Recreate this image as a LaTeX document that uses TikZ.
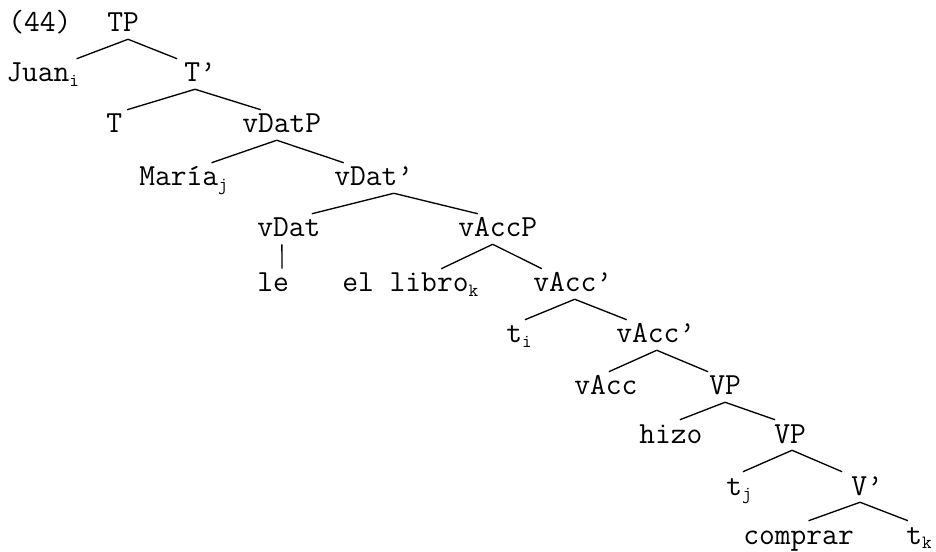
\documentclass[tikz,border=0pt]{standalone}
\usepackage{fontspec}
\usetikzlibrary{calc}

% small lowered index letters
\newcommand{\sbs}[1]{\raisebox{-3.5pt}{\fontsize{14}{14}\selectfont #1}}

\begin{document}
\begin{tikzpicture}[
  x=0.75pt, y=-0.75pt,
  lbl/.style={anchor=base west, inner sep=0pt, text height=17.25pt,
    text depth=5.25pt, font=\ttfamily\fontsize{23}{26}\selectfont},
  branch/.style={line width=1pt},
]
\useasboundingbox (0,0) rectangle (936,552);

% Example number and root
\node[lbl] (num) at (8,32) {(44)};
\node[lbl] (TP) at (107,32) {TP};

% Labels, row by row
\node[lbl] (Juan)  at (6,82)    {Juan\sbs{i}};
\node[lbl] (Tbar)  at (184,82)  {T’};
\node[lbl] (T)     at (106,133) {T};
\node[lbl] (vDatP) at (242,133) {vDatP};
\node[lbl] (Maria) at (139,186) {María\sbs{j}};
\node[lbl] (vDatbar) at (334,186) {vDat’};
\node[lbl] (vDat)  at (257,237) {vDat};
\node[lbl] (vAccP) at (458,237) {vAccP};
\node[lbl] (le)    at (257,292) {le};
\node[lbl] (libro) at (342,292) {el libro\sbs{k}};
\node[lbl] (vAccbarA) at (533,292) {vAcc’};
\node[lbl] (ti)    at (506,343) {t\sbs{i}};
\node[lbl] (vAccbarB) at (616,343) {vAcc’};
\node[lbl] (vAcc)  at (574,395) {vAcc};
\node[lbl] (VPa)   at (709,395) {VP};
\node[lbl] (hizo)  at (639,443) {hizo};
\node[lbl] (VPb)   at (774,443) {VP};
\node[lbl] (tj)    at (726,495) {t\sbs{j}};
\node[lbl] (Vbar)  at (851,495) {V’};
\node[lbl] (comprar) at (743,544) {comprar};
\node[lbl] (tk)    at (906,544) {t\sbs{k}};

% Branches
\draw[branch] ($(TP.south)+(5,0)$) -- ($(Juan.north)+(34,0)$);
\draw[branch] ($(TP.south)+(5,0)$) -- ($(Tbar.north)+(-23,0)$);

\draw[branch] ($(Tbar.south)+(-5,0)$) -- ($(T.north)+(13,0)$);
\draw[branch] ($(Tbar.south)+(-5,0)$) -- ($(vDatP.north)+(-21,0)$);

\draw[branch] ($(vDatP.south)+(-5,0)$) -- ($(Maria.north)+(28,0)$);
\draw[branch] ($(vDatP.south)+(-5,0)$) -- ($(vDatbar.north)+(-30,0)$);

\draw[branch] ($(vDatbar.south)+(20,0)$) -- ($(vDat.north)+(23,0)$);
\draw[branch] ($(vDatbar.south)+(20,0)$) -- ($(vAccP.north)+(-20,0)$);

\draw[branch] ($(vDat.south)+(-7,0)$) -- ($(le.north)+(9,0)$);

\draw[branch] ($(vAccP.south)+(-5,0)$) -- ($(libro.north)+(31,0)$);
\draw[branch] ($(vAccP.south)+(-5,0)$) -- ($(vAccbarA.north)+(-31,0)$);

\draw[branch] ($(vAccbarA.south)+(2,0)$) -- ($(ti.north)+(6,0)$);
\draw[branch] ($(vAccbarA.south)+(2,0)$) -- ($(vAccbarB.north)+(-29,0)$);

\draw[branch] ($(vAccbarB.south)+(1,0)$) -- ($(vAcc.north)+(3,0)$);
\draw[branch] ($(vAccbarB.south)+(1,0)$) -- ($(VPa.north)+(-17,0)$);

\draw[branch] (VPa.south) -- ($(hizo.north)+(9,0)$);
\draw[branch] (VPa.south) -- ($(VPb.north)+(-15,0)$);

\draw[branch] ($(VPb.south)+(2,0)$) -- ($(tj.north)+(4,0)$);
\draw[branch] ($(VPb.south)+(2,0)$) -- ($(Vbar.north)+(-25,0)$);

\draw[branch] ($(Vbar.south)+(-7,0)$) -- ($(comprar.north)+(10,0)$);
\draw[branch] ($(Vbar.south)+(-7,0)$) -- ($(tk.north)+(-11,0)$);

\end{tikzpicture}
\end{document}
